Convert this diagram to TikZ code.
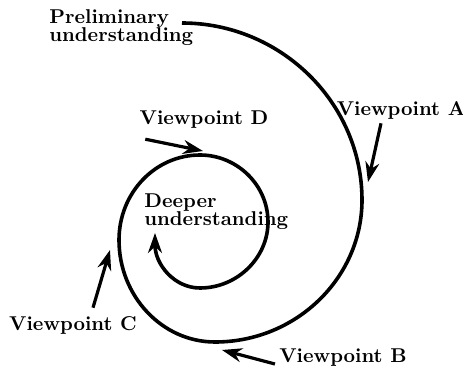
\documentclass[tikz,border=0pt]{standalone}
\usetikzlibrary{arrows.meta}

\begin{document}
\begin{tikzpicture}[x=0.5pt, y=-0.5pt, every node/.style={font=\bfseries, inner sep=0pt},
  spiral/.style={line width=1.8pt},
  viewarrow/.style={line width=1.6pt, -{Stealth[length=10pt, width=7pt]}}]
\useasboundingbox (0,0) rectangle (463,375);
% labels
\node[anchor=west, align=left] (prelim) at (49,28) {Preliminary\\[-3pt]understanding};
\node[anchor=west, align=left] (deeper) at (144,212) {Deeper\\[-3pt]understanding};
\node (vpA) at (401,110) {Viewpoint A};
\node (vpB) at (343,358) {Viewpoint B};
\node (vpC) at (73,325) {Viewpoint C};
\node (vpD) at (204,120) {Viewpoint D};
% points on the spiral
\coordinate (tipA) at (368,182);
\coordinate (tipB) at (222,350);
\coordinate (tipC) at (110,250);
\coordinate (tipD) at (203,151);
% the spiral
\draw[spiral, -{Stealth[length=10pt, width=7pt]}] (182,23)
  .. controls (281,23) and (362,103) .. (362,200)
  .. controls (362,278) and (296,342) .. (215,342)
  .. controls (162,342) and (119,296) .. (119,240)
  .. controls (119,193) and (155,155) .. (200,155)
  .. controls (237,155) and (268,185) .. (268,222)
  .. controls (268,258) and (237,288) .. (200,288)
  .. controls (174,288) and (155,264) .. (155,233);
% viewpoints
\draw[viewarrow] ([xshift=-10pt, yshift=-2pt]vpA.south) -- (tipA);
\draw[viewarrow] ([xshift=-2pt, yshift=-3pt]vpB.west) -- (tipB);
\draw[viewarrow] ([xshift=10pt, yshift=4pt]vpC.north) -- (tipC);
\draw[viewarrow] ([xshift=3pt, yshift=-5pt]vpD.south west) -- (tipD);
\end{tikzpicture}
\end{document}
